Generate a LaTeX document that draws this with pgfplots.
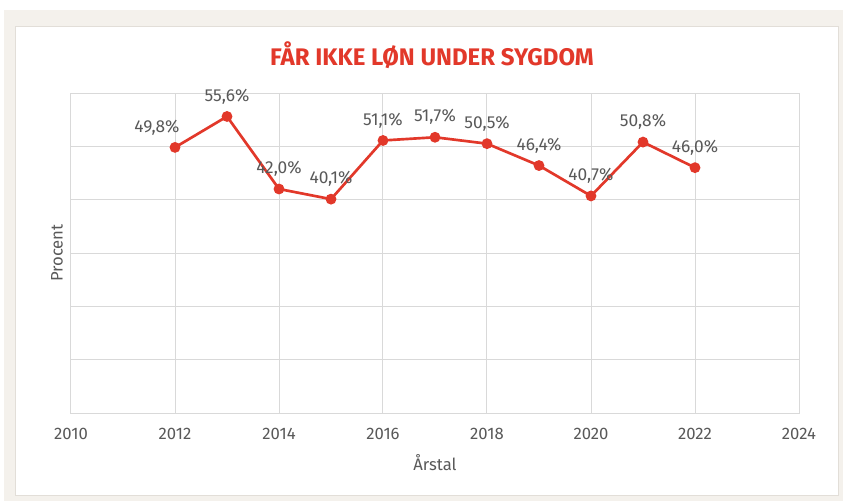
\documentclass[border=0pt]{standalone}
\usepackage{fontspec}
\setmainfont{Fira Sans}
\usepackage{pgfplots}
\pgfplotsset{compat=1.18}
\definecolor{beige}{HTML}{F4F1EC}
\definecolor{panelb}{HTML}{E2DED8}
\definecolor{myred}{HTML}{E2382A}
\definecolor{txt}{HTML}{595959}
\definecolor{gridc}{HTML}{D9D9D9}
\begin{document}
\begin{tikzpicture}
\useasboundingbox (0,0) rectangle (632.25pt,375.75pt);
\fill[white] (0,0) rectangle (632.25pt,375.75pt);
\fill[beige] (3pt,0pt) rectangle (632.25pt,368.25pt);
\filldraw[fill=white,draw=panelb,line width=0.75pt] (11.25pt,4.5pt) rectangle (628.5pt,355.5pt);
\node[font=\fontsize{18}{21}\selectfont\bfseries,text=myred] at (324pt,334pt) {FÅR IKKE LØN UNDER SYGDOM};
\begin{axis}[
  at={(53.25pt,66pt)}, anchor=south west,
  scale only axis, width=546pt, height=240pt,
  xmin=2010, xmax=2024, ymin=0, ymax=60,
  xtick={2010,2012,...,2024}, ytick={0,10,...,60}, yticklabels={},
  major tick length=0pt,
  grid=major, grid style={gridc, line width=0.75pt},
  axis line style={draw=gridc, line width=0.75pt},
  /pgf/number format/assume math mode=true,
  /pgf/number format/1000 sep={},
  tick label style={font=\fontsize{12.5}{14}\selectfont, text=txt},
  xticklabel style={anchor=center, yshift=-16pt},
  xlabel={Årstal}, ylabel={Procent},
  label style={font=\fontsize{12.5}{14}\selectfont, text=txt},
  xlabel style={at={(axis description cs:0.5,0)}, anchor=center, yshift=-37pt},
  ylabel style={at={(axis description cs:-0.0192,0.5)}, anchor=center},
]
\addplot[color=myred, line width=2pt, mark=*, mark size=3pt,
  point meta=explicit symbolic,
  nodes near coords,
  every node near coord/.append style={anchor=base, yshift=11.5pt, inner sep=0pt, text=txt, font=\fontsize{13}{15}\selectfont}]
coordinates {
(2012,49.8) [49{,}8\%\hspace*{27pt}]
(2013,55.6) [55{,}6\%]
(2014,42.0) [42{,}0\%]
(2015,40.1) [40{,}1\%]
(2016,51.1) [51{,}1\%]
(2017,51.7) [51{,}7\%]
(2018,50.5) [50{,}5\%]
(2019,46.4) [46{,}4\%]
(2020,40.7) [40{,}7\%]
(2021,50.8) [50{,}8\%]
(2022,46.0) [46{,}0\%]
};
\end{axis}
\end{tikzpicture}
\end{document}
